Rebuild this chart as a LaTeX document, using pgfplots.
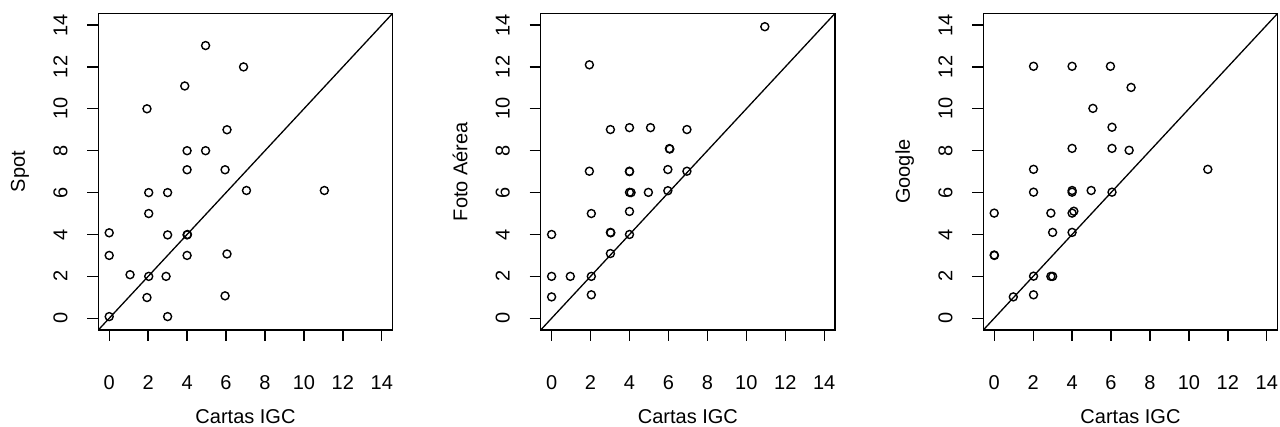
\documentclass[border=0pt]{standalone}
\usepackage{fontspec}
\setmainfont{Liberation Sans}
\usepackage{pgfplots}
\pgfplotsset{compat=1.18}
\pgfplotsset{
  rplot/.style={
    scale only axis,
    width=147.2pt, height=158.35pt,
    xmin=-0.56, xmax=14.56, ymin=-0.56, ymax=14.56,
    xtick={0,2,...,14}, ytick={0,2,...,14},
    tick align=outside,
    major tick length=5.5pt,
    xtick pos=bottom, ytick pos=left,
    axis line style={line width=0.65pt},
    every tick/.style={black, line width=0.65pt},
    /pgf/number format/assume math mode=true,
    tick label style={font=\fontsize{10}{12}\selectfont},
    xticklabel style={anchor=base, inner sep=0pt, yshift=-24.2pt},
    yticklabel style={anchor=base, inner sep=0pt, xshift=-10pt, rotate=90},
    every axis x label/.style={at={(axis description cs:0.5,0)}, anchor=base, yshift=-46.7pt, font=\fontsize{10}{12}\selectfont},
    every axis y label/.style={at={(axis description cs:0,0.5)}, xshift=-36.7pt, rotate=90, anchor=base, font=\fontsize{10}{12}\selectfont},
    xlabel={Cartas IGC},
  },
  pts/.style={only marks, mark=o, mark size=2pt, black, mark options={line width=0.7pt}},
  diag/.style={black, line width=0.65pt},
}
\begin{document}
\begin{tikzpicture}
\useasboundingbox (0,0) rectangle (640pt,213.5pt);
\begin{axis}[rplot, at={(49.15pt,48.5pt)}, anchor=south west, ylabel={Spot}]
\addplot[pts] coordinates {
(4.95,13.02) (6.9,12.0) (3.88,11.09) (1.94,10.0) (6.05,9.0) (4.0,8.0) (4.95,8.0)
(4.0,7.09) (5.95,7.09) (2.03,6.0) (3.0,6.0) (7.05,6.1) (11.05,6.1) (2.03,5.0)
(0,4.08) (3.0,3.98) (4.0,3.98) (4.02,4.0) (0,3.0) (4.0,3.0) (6.05,3.07)
(1.07,2.08) (2.03,2.0) (2.92,2.0) (1.94,0.99) (5.95,1.07) (0,0.08) (3.0,0.08)
};
\addplot[diag] coordinates {(-0.56,-0.56) (14.56,14.56)};
\end{axis}
\begin{axis}[rplot, at={(270.35pt,48.5pt)}, anchor=south west, ylabel={Foto Aérea}]
\addplot[pts] coordinates {
(10.95,13.92) (1.94,12.1) (3.02,9.01) (4.0,9.1) (5.08,9.1) (6.95,9.01)
(6.05,8.1) (6.07,8.08) (1.94,7.02) (4.0,7.02) (4.0,7.0) (5.97,7.1) (6.95,7.02)
(4.0,6.01) (4.08,6.0) (4.97,6.01) (5.97,6.09) (2.04,5.0) (4.0,5.1) (0,4.0)
(3.02,4.1) (3.04,4.08) (4.0,4.0) (3.02,3.09) (0,2.0) (0.96,2.0) (2.04,2.0)
(0,1.02) (2.04,1.12)
};
\addplot[diag] coordinates {(-0.56,-0.56) (14.56,14.56)};
\end{axis}
\begin{axis}[rplot, at={(491.65pt,48.5pt)}, anchor=south west, ylabel={Google}]
\addplot[pts] coordinates {
(2.02,12.03) (4.0,12.03) (5.97,12.03) (7.03,11.02) (5.07,10.02) (6.05,9.12)
(4.0,8.11) (6.05,8.11) (6.93,8.02) (10.97,7.11) (2.02,7.11) (2.02,6.02)
(4.0,6.1) (4.0,6.02) (4.98,6.1) (6.05,6.02) (0,5.02) (2.91,5.02) (4.0,5.02)
(4.09,5.11) (3.0,4.1) (4.0,4.1) (0,3.02) (0.01,3.0) (2.91,2.0) (3.0,2.0)
(2.02,2.01) (0.98,1.02) (2.02,1.12)
};
\addplot[diag] coordinates {(-0.56,-0.56) (14.56,14.56)};
\end{axis}
\end{tikzpicture}
\end{document}
